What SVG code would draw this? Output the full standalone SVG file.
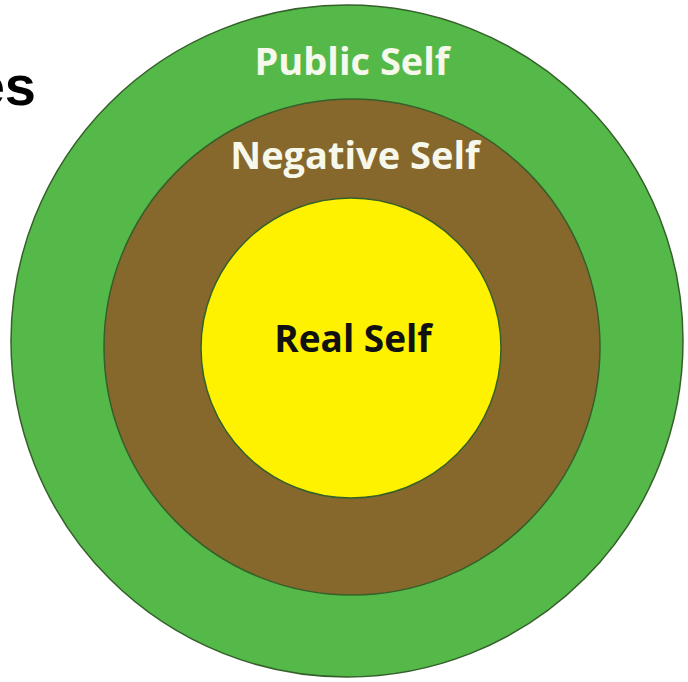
<svg xmlns="http://www.w3.org/2000/svg" width="688" height="682" viewBox="0 0 688 682">
  <style>
    .ring { stroke: #35602a; stroke-width: 1.5; }
    .lbl { font-family: "Open Sans", "Liberation Sans", sans-serif; font-weight: bold; text-anchor: middle; }
    .light { fill: #f6f8ec; }
  </style>
  <rect width="688" height="682" fill="#ffffff"/>
  <text x="36" y="105" font-family="Liberation Sans, Arial, sans-serif" font-weight="bold" font-size="56" text-anchor="end" fill="#000000">es</text>
  <g id="public-self">
    <circle class="ring" cx="347" cy="341" r="336" fill="#55b94a"/>
    <text class="lbl light" x="352" y="75" font-size="38">Public Self</text>
  </g>
  <g id="negative-self">
    <circle class="ring" cx="352" cy="347" r="248" fill="#86672c"/>
    <text class="lbl light" x="355" y="169" font-size="38">Negative Self</text>
  </g>
  <g id="real-self">
    <circle class="ring" cx="351" cy="348" r="150" fill="#fff200"/>
    <text class="lbl" x="353" y="352" font-size="37" fill="#111111">Real Self</text>
  </g>
</svg>
